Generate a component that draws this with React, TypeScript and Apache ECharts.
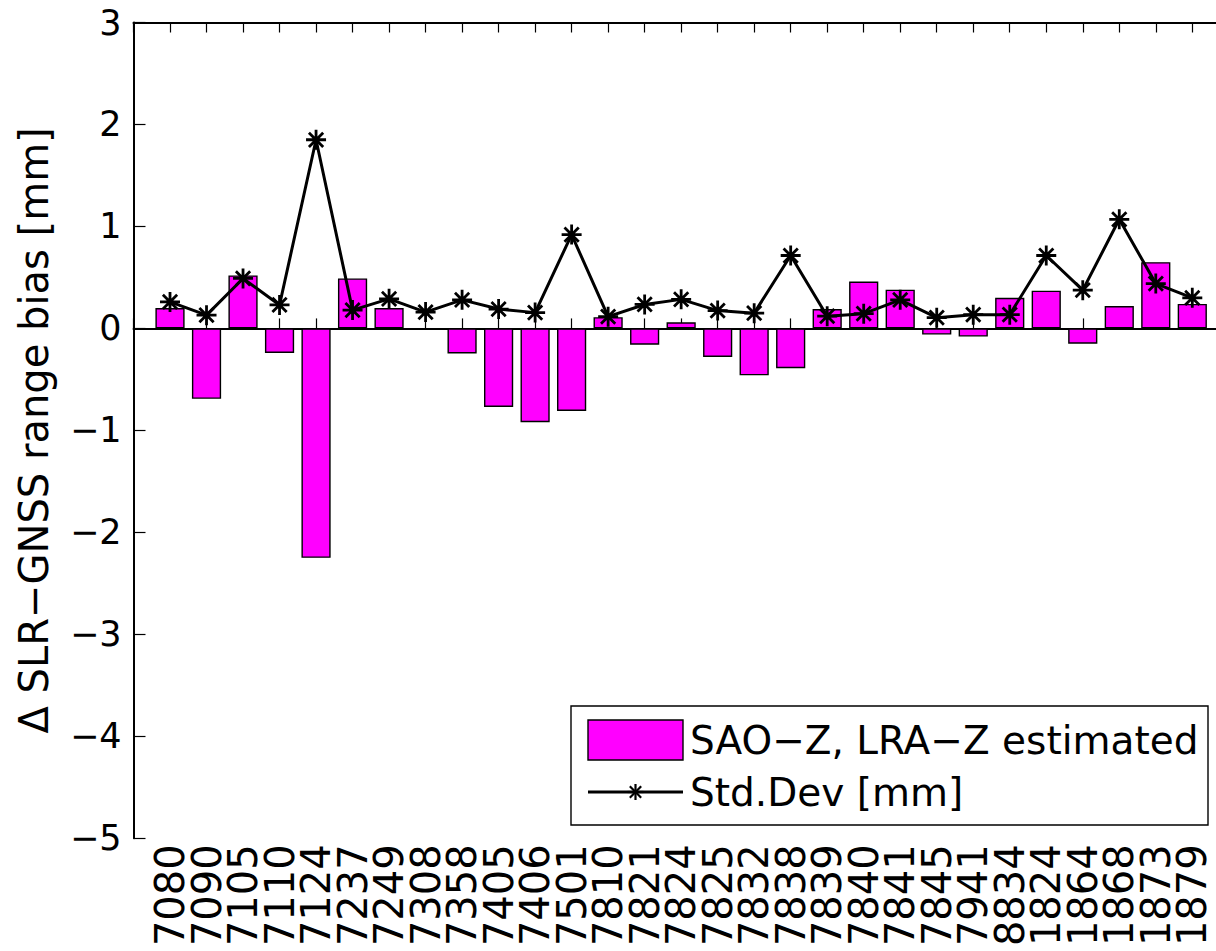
import React, { useEffect, useRef } from "react";
import * as echarts from "echarts";

const categories = ["7080","7090","7105","7110","7124","7237","7249","7308","7358","7405","7406","7501","7810","7821","7824","7825","7832","7838","7839","7840","7841","7845","7941","8834","1824","1864","1868","1873","1879"];
const biasValues = [0.20,-0.69,0.52,-0.24,-2.25,0.49,0.20,-0.01,-0.245,-0.77,-0.92,-0.81,0.11,-0.16,0.06,-0.28,-0.46,-0.39,0.19,0.46,0.38,-0.06,-0.08,0.30,0.37,-0.15,0.22,0.65,0.24];
const stdDevValues = [0.26,0.13,0.49,0.23,1.85,0.18,0.29,0.16,0.28,0.19,0.155,0.92,0.115,0.235,0.285,0.175,0.15,0.715,0.12,0.145,0.28,0.105,0.135,0.135,0.715,0.375,1.07,0.44,0.30];
const yTicks = { min: -5, max: 3, interval: 1 };
const xRange = { min: 0, max: 30 };
const seriesNames = ["SAO\u2212Z, LRA\u2212Z estimated", "Std.Dev [mm]"];
const yAxisTitle = "\u0394 SLR\u2212GNSS range bias [mm]";

const FONT = "DejaVu Sans";
const ASTERISK = "path://M0,-8L0,8M-8,0L8,0M-5.7,-5.7L5.7,5.7M5.7,-5.7L-5.7,5.7";

export default function App() {
  const ref = useRef<HTMLDivElement>(null);
  useEffect(() => {
    if (!ref.current) return;
    const chart = echarts.init(ref.current, null, { renderer: "svg" });
    const fmt = (v: number) => (v < 0 ? "\u2212" + Math.abs(v) : String(v));
    const catLabel = (v: number) => {
      const i = Math.round(v) - 1;
      return i >= 0 && i < categories.length ? categories[i] : "";
    };
    const ax = { color: "#000", width: 2 };
    const tk = { color: "#000", width: 1.2 };
    // legend geometry
    const L = { x: 571, y: 706, w: 637, h: 119 };
    const r1 = 740, r2 = 792, iconX = 588, iconW = 95, textX = 690;
    const cx = iconX + iconW / 2;
    const star = (x: number, y: number, r: number) => {
      const d = r * 0.71;
      return [
        [x, y - r, x, y + r], [x - r, y, x + r, y], [x - d, y - d, x + d, y + d], [x + d, y - d, x - d, y + d],
      ].map((s) => ({
        type: "line",
        shape: { x1: s[0], y1: s[1], x2: s[2], y2: s[3] },
        style: { stroke: "#000", lineWidth: 2.2 },
      }));
    };
    chart.setOption({
      animation: false,
      backgroundColor: "#fff",
      grid: { left: 133.5, top: 22.5, width: 1095.3, height: 815.8 },
      xAxis: [
        {
          type: "value", min: xRange.min, max: xRange.max, interval: 1, position: "bottom",
          axisLine: { show: true, lineStyle: ax },
          axisTick: { show: true, inside: true, length: 10, lineStyle: tk },
          splitLine: { show: false },
          axisLabel: { rotate: 90, formatter: catLabel, fontSize: 40, fontFamily: FONT, color: "#000", margin: 6 },
        },
        {
          type: "value", min: xRange.min, max: xRange.max, interval: 1, position: "top",
          axisLine: { show: true, onZero: false, lineStyle: ax },
          axisTick: { show: true, inside: true, length: 10, lineStyle: tk },
          splitLine: { show: false }, axisLabel: { show: false },
        },
      ],
      yAxis: [
        {
          type: "value", min: yTicks.min, max: yTicks.max, interval: yTicks.interval, position: "left",
          axisLine: { show: true, onZero: false, lineStyle: ax },
          axisTick: { show: true, inside: true, length: 12, lineStyle: tk },
          splitLine: { show: false },
          axisLabel: { formatter: fmt, fontSize: 35, fontFamily: FONT, color: "#000", margin: 12 },
          name: yAxisTitle, nameLocation: "middle", nameGap: 80,
          nameTextStyle: { fontSize: 40, fontFamily: FONT, color: "#000" },
        },
        {
          type: "value", min: yTicks.min, max: yTicks.max, interval: yTicks.interval, position: "right",
          axisLine: { show: true, onZero: false, lineStyle: ax },
          axisTick: { show: true, inside: true, length: 12, lineStyle: tk },
          splitLine: { show: false }, axisLabel: { show: false },
        },
      ],
      series: [
        {
          name: seriesNames[0], type: "bar", xAxisIndex: 0, yAxisIndex: 0,
          data: biasValues.map((v, i) => [i + 1, v]),
          barWidth: 29.2,
          itemStyle: { color: "#ff00ff", borderColor: "#000", borderWidth: 1.4 },
          markLine: {
            silent: true, symbol: "none", label: { show: false },
            lineStyle: { color: "#000", width: 1.2, type: "solid" },
            data: [{ yAxis: 0 }],
          },
          z: 2,
        },
        {
          name: seriesNames[1], type: "line", xAxisIndex: 0, yAxisIndex: 0,
          data: stdDevValues.map((v, i) => [i + 1, v]),
          symbol: ASTERISK, symbolSize: 20,
          lineStyle: { color: "#000", width: 3 },
          itemStyle: { color: "#000", borderColor: "#000", borderWidth: 2.8 },
          z: 3,
        },
      ],
      graphic: [
        {
          type: "group", z: 100,
          children: [
            { type: "rect", shape: { x: L.x, y: L.y, width: L.w, height: L.h }, style: { fill: "#fff", stroke: "#000", lineWidth: 1.4 } },
            { type: "rect", shape: { x: iconX, y: r1 - 20, width: iconW, height: 40 }, style: { fill: "#ff00ff", stroke: "#000", lineWidth: 1.4 } },
            { type: "text", x: textX, y: r1, style: { text: seriesNames[0], fontSize: 39, fontFamily: FONT, fill: "#000", align: "left", verticalAlign: "middle" } },
            { type: "line", shape: { x1: iconX, y1: r2, x2: iconX + iconW, y2: r2 }, style: { stroke: "#000", lineWidth: 2.8 } },
            ...star(cx, r2, 8),
            { type: "text", x: textX, y: r2, style: { text: seriesNames[1], fontSize: 39, fontFamily: FONT, fill: "#000", align: "left", verticalAlign: "middle" } },
          ],
        },
      ],
    });
    return () => chart.dispose();
  }, []);
  return (
    <div style={{ position: "fixed", left: 0, top: 0, width: 1216, height: 951, overflow: "hidden", background: "#fff" }}>
      <div ref={ref} style={{ width: 1240, height: 951 }} />
    </div>
  );
}
